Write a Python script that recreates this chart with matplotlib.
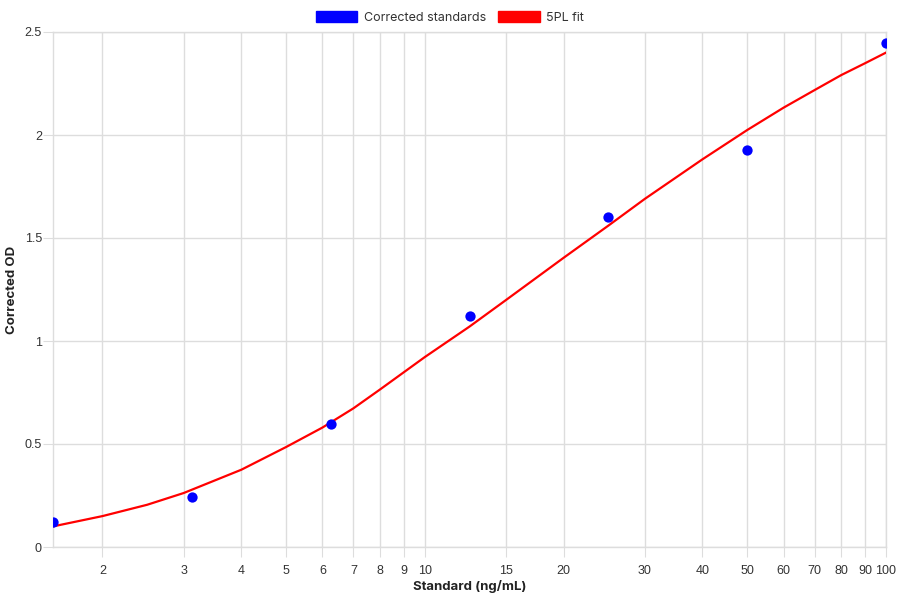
import matplotlib
matplotlib.use('Agg')
import matplotlib.pyplot as plt
from matplotlib.patches import Patch
from matplotlib.ticker import FixedLocator, NullLocator

# standards (ng/mL) and corrected OD
std_conc = [1.5625, 3.125, 6.25, 12.5, 25, 50, 100]
std_od = [0.123, 0.241, 0.596, 1.123, 1.600, 1.926, 2.448]

# 5PL fit curve
fit_conc = [1.5625, 2, 2.5, 3, 4, 5, 6, 7, 8, 10, 12.5, 15, 20, 25, 30, 40, 50, 60, 70, 80, 90, 100]
fit_od = [0.100, 0.150, 0.205, 0.262, 0.375, 0.485, 0.580, 0.673, 0.765, 0.922, 1.070, 1.199,
          1.404, 1.560, 1.690, 1.882, 2.024, 2.133, 2.218, 2.291, 2.348, 2.400]

x_ticks = [2, 3, 4, 5, 6, 7, 8, 9, 10, 15, 20, 30, 40, 50, 60, 70, 80, 90, 100]
y_ticks = [0, 0.5, 1, 1.5, 2, 2.5]
y_labels = ['0', '0.5', '1', '1.5', '2', '2.5']

grid_col = '#dddddd'
text_col = '#333333'
title_font = ['Inter', 'DejaVu Sans']
tick_font = ['Liberation Sans', 'DejaVu Sans']

fig = plt.figure(figsize=(9, 6), dpi=100)
ax = fig.add_axes([53 / 900, 53 / 600, 833 / 900, 515 / 600])

ax.plot(fit_conc, fit_od, color='#ff0000', linewidth=1.6, zorder=3)
ax.scatter(std_conc, std_od, s=55, color='#0000ff', zorder=4, linewidths=0)

ax.set_xscale('log')
ax.set_xlim(1.5625, 100)
ax.set_ylim(0, 2.5)

ax.xaxis.set_major_locator(FixedLocator(x_ticks))
ax.xaxis.set_minor_locator(NullLocator())
ax.set_xticks(x_ticks)
ax.set_xticklabels([str(t) for t in x_ticks])
ax.set_yticks(y_ticks)
ax.set_yticklabels(y_labels)

ax.grid(True, color=grid_col, linewidth=1)
ax.set_axisbelow(True)
for s in ax.spines.values():
    s.set_color(grid_col)
    s.set_linewidth(1)

ax.tick_params(axis='both', length=7, color=grid_col, labelcolor=text_col, labelsize=9)
ax.tick_params(axis='x', pad=6)
ax.tick_params(axis='y', pad=1)
for lab in ax.get_xticklabels() + ax.get_yticklabels():
    lab.set_family(tick_font)

ax.set_xlabel('Standard (ng/mL)', fontsize=9.5, fontweight='bold', color='#222222',
              family=title_font)
ax.xaxis.set_label_coords(0.5, -33 / 515)
ax.set_ylabel('Corrected OD', fontsize=9.5, fontweight='bold', color='#222222',
              family=title_font)
ax.yaxis.set_label_coords(-35 / 833, 0.5)

handles = [Patch(facecolor='#0000ff', edgecolor='#0000ff', label='Corrected standards'),
           Patch(facecolor='#ff0000', edgecolor='#ff0000', label='5PL fit')]
leg = fig.legend(handles=handles, loc='upper center', bbox_to_anchor=(0.5, 1.0), ncol=2,
                 frameon=False, handlelength=3.3, handleheight=1.0,
                 handletextpad=0.5, columnspacing=1.0, prop={'family': title_font, 'size': 9})
for t in leg.get_texts():
    t.set_color(text_col)

fig.savefig('out.png', dpi=100)
